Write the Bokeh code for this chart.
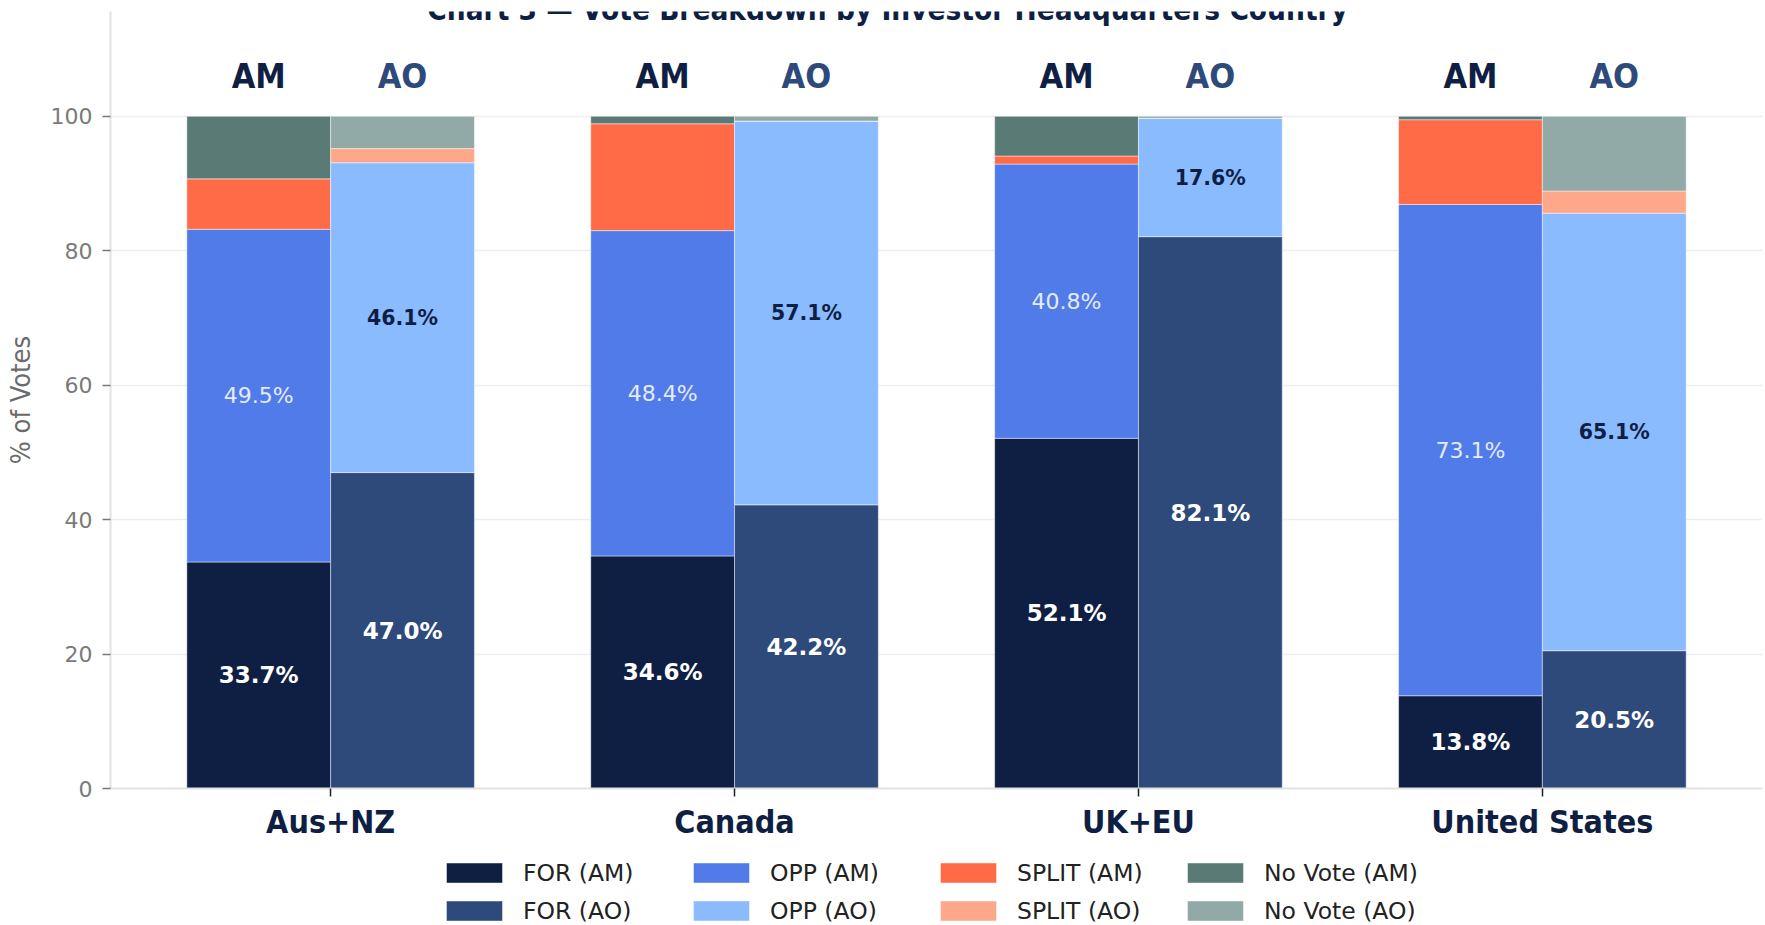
from bokeh.plotting import figure
from bokeh.layouts import column
from bokeh.models import (ColumnDataSource, FactorRange, Range1d, Legend, LegendItem,
                          FixedTicker, Label)
from bokeh.transform import dodge
from bokeh.core.properties import value
from bokeh.embed import file_html
from bokeh.resources import INLINE

# ---------------- data ----------------
countries = ["Aus+NZ", "Canada", "UK+EU", "United States"]
for_am = [33.7, 34.6, 52.1, 13.8]
opp_am = [49.5, 48.4, 40.8, 73.1]
split_am = [7.5, 15.9, 1.2, 12.6]
novote_am = [9.3, 1.1, 5.9, 0.5]
for_ao = [47.0, 42.2, 82.1, 20.5]
opp_ao = [46.1, 57.1, 17.6, 65.1]
split_ao = [2.1, 0.0, 0.0, 3.3]
novote_ao = [4.8, 0.7, 0.3, 11.1]
y_ticks = [0, 20, 40, 60, 80, 100]
vote_types = ["FOR", "OPP", "SPLIT", "No Vote"]
groups = ["AM", "AO"]
title_text = "Chart 3 \u2014 Vote Breakdown by Investor Headquarters Country"
y_label = "% of Votes"

colors = {
    ("FOR", "AM"): "#0f1f44", ("FOR", "AO"): "#2e4a7a",
    ("OPP", "AM"): "#527bea", ("OPP", "AO"): "#8bbbff",
    ("SPLIT", "AM"): "#ff6a47", ("SPLIT", "AO"): "#ffa889",
    ("No Vote", "AM"): "#5a7a76", ("No Vote", "AO"): "#91aaa8",
}
group_colors = {"AM": "#0f1f44", "AO": "#2e4a7a"}

# ---------------- layout constants ----------------
W = 1765
MAIN_H = 843
LEG_H = 82
BAR_W = 0.356
OFF = {"AM": -0.178, "AO": 0.178}
Y_MAX = 115.6
HEADER_Y = 106

data = dict(country=countries,
            FOR_AM=for_am, OPP_AM=opp_am, SPLIT_AM=split_am, NV_AM=novote_am,
            FOR_AO=for_ao, OPP_AO=opp_ao, SPLIT_AO=split_ao, NV_AO=novote_ao)
for g, f_, o_ in (("AM", for_am, opp_am), ("AO", for_ao, opp_ao)):
    data[f"for_mid_{g}"] = [v / 2 for v in f_]
    data[f"opp_mid_{g}"] = [a + b / 2 for a, b in zip(f_, o_)]
    data[f"for_txt_{g}"] = [f"{v:.1f}%" for v in f_]
    data[f"opp_txt_{g}"] = [f"{v:.1f}%" for v in o_]
    data[f"hdr_{g}"] = [g] * len(countries)
    data[f"hdr_y_{g}"] = [HEADER_Y] * len(countries)
source = ColumnDataSource(data)

p = figure(x_range=FactorRange(factors=countries, range_padding=0.045,
                               range_padding_units="absolute"),
           y_range=Range1d(0, Y_MAX),
           width=W, height=MAIN_H, output_backend="svg", toolbar_location=None,
           min_border_left=110, min_border_right=3, min_border_top=11,
           min_border_bottom=53)
p.outline_line_color = None
p.background_fill_color = "white"
p.border_fill_color = "white"

for g in groups:
    stackers = [f"FOR_{g}", f"OPP_{g}", f"SPLIT_{g}", f"NV_{g}"]
    p.vbar_stack(stackers, x=dodge("country", OFF[g], range=p.x_range),
                 width=BAR_W, source=source,
                 fill_color=[colors[(t, g)] for t in vote_types],
                 line_color="white", line_alpha=0.45, line_width=1)

DV = value("DejaVu Sans")
DVC = value("DejaVu Sans Condensed")

# segment labels
p.text(x=dodge("country", OFF["AM"], range=p.x_range), y="for_mid_AM", text="for_txt_AM",
       source=source, text_color="white", text_font=DV, text_font_style="bold",
       text_font_size="23px", text_align="center", text_baseline="middle")
p.text(x=dodge("country", OFF["AO"], range=p.x_range), y="for_mid_AO", text="for_txt_AO",
       source=source, text_color="white", text_font=DV, text_font_style="bold",
       text_font_size="23px", text_align="center", text_baseline="middle")
p.text(x=dodge("country", OFF["AM"], range=p.x_range), y="opp_mid_AM", text="opp_txt_AM",
       source=source, text_color="#e4ebfb", text_font=DV, text_font_style="normal",
       text_font_size="22px", text_align="center", text_baseline="middle")
p.text(x=dodge("country", OFF["AO"], range=p.x_range), y="opp_mid_AO", text="opp_txt_AO",
       source=source, text_color="#0f1f44", text_font=DV, text_font_style="bold",
       text_font_size="20.5px", text_align="center", text_baseline="middle")

# AM / AO headers
for g in groups:
    p.text(x=dodge("country", OFF[g], range=p.x_range), y=f"hdr_y_{g}", text=f"hdr_{g}",
           source=source, text_color=group_colors[g], text_font=DVC,
           text_font_style="bold", text_font_size="34px", text_align="center",
           text_baseline="middle")

# title (partly outside top of canvas as in the reference)
p.add_layout(Label(x=1.879, y=Y_MAX + 0.2, text=title_text,
                   text_font="DejaVu Sans Condensed",
                   text_font_style="bold", text_font_size="29.5px",
                   text_color="#0f1f44", text_align="center",
                   text_baseline="alphabetic"))

# axes
p.yaxis.ticker = FixedTicker(ticks=y_ticks)
p.yaxis.axis_label = y_label
p.yaxis.axis_label_text_font = "DejaVu Sans Condensed"
p.yaxis.axis_label_text_font_style = "normal"
p.yaxis.axis_label_text_font_size = "27px"
p.yaxis.axis_label_text_color = "#6b6b6b"
p.yaxis.axis_label_standoff = 12
p.yaxis.major_label_text_font = "DejaVu Sans"
p.yaxis.major_label_text_font_size = "22px"
p.yaxis.major_label_text_color = "#7a7a7a"
p.yaxis.major_label_standoff = 10
p.yaxis.axis_line_color = "#e2e2e2"
p.yaxis.axis_line_width = 2
p.yaxis.major_tick_line_color = "#777777"
p.yaxis.major_tick_line_width = 1.5
p.yaxis.major_tick_out = 8
p.yaxis.major_tick_in = 0
p.yaxis.minor_tick_line_color = None

p.xaxis.major_label_text_font = "DejaVu Sans Condensed"
p.xaxis.major_label_text_font_style = "bold"
p.xaxis.major_label_text_font_size = "32px"
p.xaxis.major_label_text_color = "#0f1f44"
p.xaxis.major_label_standoff = 6
p.xaxis.axis_line_color = "#e2e2e2"
p.xaxis.axis_line_width = 2
p.xaxis.major_tick_line_color = "#222222"
p.xaxis.major_tick_line_width = 1.5
p.xaxis.major_tick_out = 8
p.xaxis.major_tick_in = 0

p.xgrid.grid_line_color = None
p.ygrid.grid_line_color = "#eeeeee"
p.ygrid.grid_line_width = 1.5

# ---------------- legend strip ----------------
pl = figure(width=W, height=LEG_H, output_backend="svg", toolbar_location=None,
            x_range=Range1d(0, 1), y_range=Range1d(0, 1),
            x_axis_location=None, y_axis_location=None,
            min_border=0, min_border_left=0, min_border_right=0,
            min_border_top=0, min_border_bottom=0)
pl.outline_line_color = None
pl.xgrid.grid_line_color = None
pl.ygrid.grid_line_color = None
pl.background_fill_color = "white"
pl.border_fill_color = "white"

items = []
for g in groups:
    for t in vote_types:
        # proxy glyph placed outside the visible range: only its swatch is shown
        r = pl.vbar(x=[-5.0], top=[-4.0], bottom=[-5.0], width=0.1,
                    fill_color=colors[(t, g)], line_color="white", line_alpha=0.45)
        items.append(LegendItem(label=f"{t} ({g})", renderers=[r]))
legend = Legend(items=items, orientation="horizontal", ncols=4,
                location=(329, 0.5), padding=0, margin=0, spacing=10,
                glyph_width=70, glyph_height=25, label_standoff=14,
                label_width=153, label_height=27,
                label_text_font="DejaVu Sans", label_text_font_size="23.5px",
                label_text_color="#222222", border_line_color=None,
                background_fill_alpha=0)
pl.add_layout(legend, "center")

layout = column(p, pl, spacing=0)
open("out.html", "w").write(file_html(layout, INLINE))
